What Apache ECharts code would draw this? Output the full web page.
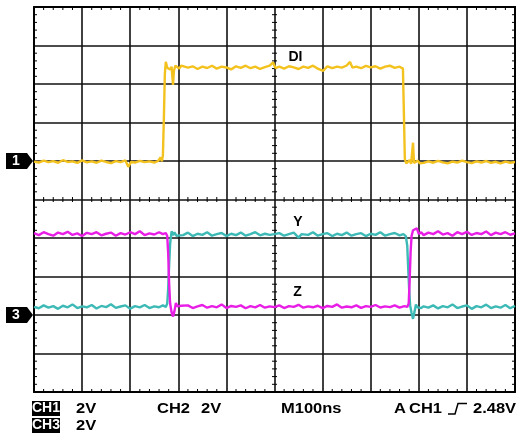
<!DOCTYPE html>
<html>
<head>
<meta charset="utf-8">
<script src="https://cdn.jsdelivr.net/npm/echarts@6/dist/echarts.min.js"></script>
<style>
  html, body { margin: 0; padding: 0; background: #fff; }
  #chart { width: 522px; height: 444px; }
</style>
</head>
<body>
<div id="chart"></div>
<script>
// Horizontal: 100 ns/div, 10 divisions. Vertical: 2 V/div, 10 divisions.
const timeRange = [0, 1000];
const timePerDiv = 100;
const voltRange = [-10, 10];
const voltsPerDiv = 2;

// Ground reference of each channel, in screen volts (divisions * 2 V)
const ch1Ground = 2;    // CH1 marker one division above centre
const ch3Ground = -6;   // CH3 marker three divisions below centre

// DI on CH1: [time ns, volts]
const diTrace = [
  [0,-0.03],[10,-0.08],[20,0.02],[30,-0.06],[40,-0.01],[50,-0.09],[60,0.04],[70,-0.05],[80,-0.02],[90,-0.10],
  [100,0.03],[110,-0.07],[120,-0.02],[130,-0.09],[140,0.02],[150,-0.05],[160,-0.11],[170,-0.01],[180,-0.06],[190,0.03],
  [196,-0.30],[202,-0.05],[210,-0.08],[220,0.01],[230,-0.06],[240,-0.02],[250,-0.08],[258,0.00],[263,0.18],[266,-0.02],
  [268,0.30],[270,2.2],[272,4.5],[274,5.15],[277,4.85],[280,4.95],[283,4.75],[286,4.9],[289,3.95],[291,4.7],
  [294,4.95],[298,5.05],[302,4.8],[306,4.95],[310,5.0],[320,4.85],[330,4.92],[340,4.78],[350,4.9],[360,4.83],
  [370,4.95],[380,4.8],[390,4.9],[400,4.86],[410,4.76],[420,4.92],[430,4.84],[440,4.95],[450,4.82],[460,4.9],
  [470,4.78],[480,4.88],[490,4.95],[497,5.12],[502,4.83],[510,4.9],[520,4.8],[530,4.92],[540,4.86],[550,4.78],
  [560,4.9],[570,4.84],[580,4.95],[590,4.8],[601,4.68],[610,4.92],[620,4.82],[630,4.9],[640,4.85],[650,4.96],
  [657,5.15],[662,4.85],[670,4.9],[680,4.82],[690,4.94],[700,4.86],[710,4.92],[720,4.8],[730,4.9],[740,4.95],
  [750,4.84],[760,4.9],[764,5.0],[767,4.8],[769,2.5],[771,0.1],[774,-0.12],[778,-0.18],[781,0.05],[784,-0.15],
  [788,0.95],[790,-0.1],[794,-0.2],[798,0.02],[802,-0.12],[806,-0.03],[810,-0.1],[820,-0.02],[830,-0.09],[840,0.01],
  [850,-0.07],[860,-0.12],[870,-0.03],[880,-0.08],[890,0.02],[900,-0.06],[910,-0.11],[920,-0.02],[930,-0.08],[940,0.0],
  [950,-0.1],[960,-0.04],[970,-0.12],[980,-0.03],[990,-0.09],[1000,-0.05]
];

// Y output on CH3 reference: [time ns, volts]
const yTrace = [
  [0,4.25],[10,4.15],[20,4.3],[30,4.2],[40,4.12],[50,4.28],[60,4.2],[70,4.32],[80,4.16],[90,4.24],
  [100,4.1],[110,4.27],[120,4.2],[130,4.3],[140,4.14],[150,4.22],[160,4.28],[170,4.12],[180,4.25],[190,4.18],
  [200,4.3],[210,4.2],[220,4.35],[230,4.15],[240,4.24],[250,4.18],[260,4.3],[268,4.2],[274,4.26],[277,4.1],
  [279,3.2],[281,1.6],[283,0.6],[286,0.15],[289,-0.08],[292,0.2],[295,0.62],[298,0.45],[302,0.35],[306,0.48],
  [310,0.4],[320,0.5],[330,0.36],[340,0.45],[350,0.52],[360,0.38],[370,0.46],[380,0.4],[390,0.55],[400,0.36],
  [410,0.47],[420,0.42],[430,0.5],[440,0.35],[450,0.46],[460,0.4],[470,0.52],[480,0.38],[490,0.45],[500,0.41],
  [510,0.5],[520,0.36],[530,0.46],[540,0.42],[550,0.53],[560,0.38],[570,0.45],[580,0.4],[590,0.48],[600,0.36],
  [610,0.47],[620,0.42],[630,0.55],[640,0.38],[650,0.44],[660,0.4],[670,0.5],[680,0.37],[690,0.46],[700,0.42],
  [710,0.52],[720,0.39],[730,0.45],[740,0.41],[750,0.5],[760,0.38],[770,0.46],[776,0.42],[779,0.6],[781,1.8],
  [783,3.3],[785,4.1],[788,4.4],[792,4.3],[796,4.5],[800,4.2],[805,4.3],[810,4.15],[820,4.28],[830,4.2],
  [840,4.35],[850,4.18],[860,4.25],[870,4.12],[880,4.3],[890,4.2],[900,4.32],[910,4.16],[920,4.26],[930,4.2],
  [940,4.34],[950,4.15],[960,4.28],[970,4.2],[980,4.3],[990,4.17],[1000,4.24]
];

// Z output on CH3 reference: [time ns, volts]
const zTrace = [
  [0,0.42],[10,0.35],[20,0.5],[30,0.38],[40,0.46],[50,0.32],[60,0.48],[70,0.4],[80,0.55],[90,0.36],
  [100,0.45],[110,0.4],[120,0.52],[130,0.34],[140,0.47],[150,0.41],[160,0.56],[170,0.37],[180,0.44],[190,0.5],
  [200,0.33],[210,0.46],[220,0.4],[230,0.52],[240,0.36],[250,0.45],[260,0.4],[268,0.5],[274,0.42],[277,0.6],
  [279,1.4],[281,2.6],[283,3.7],[286,4.35],[289,4.15],[292,4.3],[296,4.12],[300,4.22],[310,4.15],[320,4.28],
  [330,4.1],[340,4.22],[350,4.16],[360,4.3],[370,4.12],[380,4.2],[390,4.26],[400,4.1],[410,4.22],[420,4.15],
  [430,4.28],[440,4.12],[450,4.2],[460,4.3],[470,4.14],[480,4.22],[490,4.16],[500,4.2],[510,4.25],[520,4.12],
  [530,4.2],[540,4.28],[550,4.02],[556,4.2],[560,4.22],[570,4.16],[580,4.3],[590,4.12],[600,4.2],[610,4.25],
  [620,4.1],[630,4.22],[640,4.15],[650,4.28],[660,4.12],[670,4.2],[680,4.25],[690,4.1],[700,4.22],[710,4.16],
  [720,4.3],[730,4.12],[740,4.2],[750,4.26],[760,4.14],[768,4.2],[773,4.1],[776,3.6],[778,2.4],[780,1.3],
  [782,0.5],[785,0.1],[788,-0.2],[791,0.15],[794,0.55],[797,0.4],[800,0.5],[805,0.36],[810,0.45],[820,0.38],
  [830,0.5],[840,0.34],[850,0.46],[860,0.4],[870,0.55],[880,0.36],[890,0.44],[900,0.5],[910,0.32],[920,0.46],
  [930,0.4],[940,0.54],[950,0.36],[960,0.45],[970,0.38],[980,0.52],[990,0.35],[1000,0.47]
];

const traceColors = { di: '#f4c21f', y: '#e81de6', z: '#3dbab6' };
const FONT = '"Liberation Sans", Arial, sans-serif';
const minorPerDiv = 5;

const chart = echarts.init(document.getElementById('chart'), null, { renderer: 'canvas' });

function axis(kind, position) {
  const isX = kind === 'x';
  return {
    type: 'value',
    position,
    min: isX ? timeRange[0] : voltRange[0],
    max: isX ? timeRange[1] : voltRange[1],
    interval: isX ? timePerDiv : voltsPerDiv,
    axisLabel: { show: false },
    axisLine: { show: true, onZero: false, lineStyle: { color: '#000', width: 2 } },
    axisTick: { show: false },
    splitLine: { show: position === 'bottom' || position === 'left', lineStyle: { color: '#111', width: 1.6 } }
  };
}

// Minor graticule marks: one entry per subdivision along each edge and the centre cross.
const minorX = [], minorY = [];
for (let i = 0; i <= (timeRange[1] - timeRange[0]) / timePerDiv * minorPerDiv; i++) {
  if (i % minorPerDiv) minorX.push(timeRange[0] + i * timePerDiv / minorPerDiv);
}
for (let i = 0; i <= (voltRange[1] - voltRange[0]) / voltsPerDiv * minorPerDiv; i++) {
  if (i % minorPerDiv) minorY.push(voltRange[0] + i * voltsPerDiv / minorPerDiv);
}
const tickItems = [
  ...minorX.map(t => ['x', t]),
  ...minorY.map(v => ['y', v])
];

const graticuleTicks = {
  type: 'custom',
  xAxisIndex: 0, yAxisIndex: 0,
  silent: true, animation: false, z: 3,
  data: tickItems.map((d, i) => [i]),
  renderItem(params, api) {
    const [dir, val] = tickItems[api.value(0)];
    const midT = (timeRange[0] + timeRange[1]) / 2;
    const midV = (voltRange[0] + voltRange[1]) / 2;
    const style = { stroke: '#000', lineWidth: 1 };
    const L = 3, C = 2.5;
    const segs = [];
    if (dir === 'x') {
      const top = api.coord([val, voltRange[1]]);
      const bot = api.coord([val, voltRange[0]]);
      const mid = api.coord([val, midV]);
      segs.push([top[0], top[1], top[0], top[1] + L]);
      segs.push([bot[0], bot[1], bot[0], bot[1] - L]);
      segs.push([mid[0], mid[1] - C, mid[0], mid[1] + C]);
    } else {
      const left = api.coord([timeRange[0], val]);
      const right = api.coord([timeRange[1], val]);
      const mid = api.coord([midT, val]);
      segs.push([left[0], left[1], left[0] + L, left[1]]);
      segs.push([right[0], right[1], right[0] - L, right[1]]);
      segs.push([mid[0] - C, mid[1], mid[0] + C, mid[1]]);
    }
    return {
      type: 'group',
      children: segs.map(s => ({
        type: 'line', shape: { x1: s[0], y1: s[1], x2: s[2], y2: s[3] }, style
      }))
    };
  }
};

const shift = (trace, ground) => trace.map(([t, v]) => [t, v + ground]);

function lineSeries(name, data, color) {
  return {
    name, type: 'line', data, xAxisIndex: 0, yAxisIndex: 0,
    showSymbol: false, symbol: 'none', animation: false,
    lineStyle: { color, width: 2.4 }, z: 5
  };
}

chart.setOption({
  backgroundColor: '#fff',
  animation: false,
  grid: { left: 34, top: 7, right: 7, bottom: 52, containLabel: false, outerBoundsMode: 'none' },
  xAxis: [axis('x', 'bottom'), axis('x', 'top')],
  yAxis: [axis('y', 'left'), axis('y', 'right')],
  series: [
    graticuleTicks,
    lineSeries('DI', shift(diTrace, ch1Ground), traceColors.di),
    lineSeries('Z', shift(zTrace, ch3Ground), traceColors.z),
    lineSeries('Y', shift(yTrace, ch3Ground), traceColors.y)
  ]
});

// Channel ground markers follow the axis scale
const g1 = chart.convertToPixel({ yAxisIndex: 0 }, ch1Ground);
const g3 = chart.convertToPixel({ yAxisIndex: 0 }, ch3Ground);

function groundMarker(label, gy) {
  return [
    { type: 'polygon', shape: { points: [[6, gy - 8], [27, gy - 8], [33, gy], [27, gy + 8], [6, gy + 8]] },
      style: { fill: '#000' }, z: 10 },
    { type: 'text', x: 16, y: gy + 0.5, z: 11,
      style: { text: label, font: 'bold 14px ' + FONT, fill: '#fff', textAlign: 'center', textVerticalAlign: 'middle' } }
  ];
}

function label(text, x, y, opts) {
  opts = opts || {};
  return { type: 'text', x, y, scaleX: opts.scaleX || 1, z: 12,
    style: { text, font: 'bold ' + (opts.size || 14) + 'px ' + FONT, fill: opts.fill || '#000',
             textAlign: opts.align || 'left', textVerticalAlign: 'middle' } };
}

const row1 = 408.5, row2 = 425.5;
const status = { size: 15, scaleX: 1.1 };

chart.setOption({
  graphic: [
    ...groundMarker('1', g1),
    ...groundMarker('3', g3),
    label('DI', 295.5, 57, { align: 'center' }),
    label('Y', 298, 222, { align: 'center' }),
    label('Z', 297.5, 292.5, { align: 'center' }),
    { type: 'rect', shape: { x: 32, y: 401, width: 28, height: 15 }, style: { fill: '#000' }, z: 10 },
    label('CH1', 46, row1, { align: 'center', fill: '#fff' }),
    label('2V', 76, row1, status),
    label('CH2', 157, row1, status),
    label('2V', 201, row1, status),
    label('M100ns', 281, row1, status),
    label('A', 394, row1, status),
    label('CH1', 409, row1, status),
    { type: 'polyline', shape: { points: [[448, 414], [455, 414], [458, 403.5], [467, 403.5]] },
      style: { stroke: '#000', lineWidth: 1.5, fill: null }, z: 12 },
    label('2.48V', 473, row1, status),
    { type: 'rect', shape: { x: 32, y: 418, width: 28, height: 15 }, style: { fill: '#000' }, z: 10 },
    label('CH3', 46, row2, { align: 'center', fill: '#fff' }),
    label('2V', 76, row2, status)
  ]
});
</script>
</body>
</html>
